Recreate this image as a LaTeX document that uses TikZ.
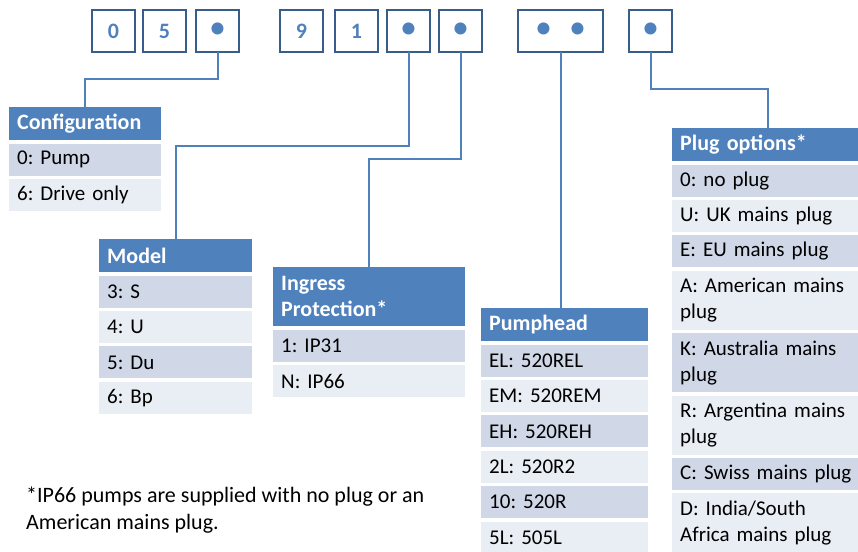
\documentclass[tikz,border=0pt]{standalone}
\usepackage{fontspec}
\setmainfont{Carlito}
\usetikzlibrary{positioning}
\definecolor{hdrblue}{HTML}{4F81BD}
\definecolor{boxedge}{HTML}{385D8A}
\definecolor{rowdark}{HTML}{D0D8E8}
\definecolor{rowlight}{HTML}{E9EDF4}
\frenchspacing

\begin{document}
\begin{tikzpicture}[
    x=1pt, y=-1pt,
    node distance=3pt,
    digit/.style={draw=boxedge, line width=2pt, outer sep=0pt, minimum width=43pt, minimum height=42pt, inner sep=0pt, text=hdrblue, font=\bfseries\fontsize{22}{26}\selectfont},
    dotbox/.style={digit, font=\fontsize{34}{34}\selectfont},
    hdr/.style={fill=hdrblue, text=white, text width=#1, inner xsep=8pt, inner ysep=2pt, minimum height=33pt, align=left, font=\bfseries\fontsize{22}{26}\selectfont},
    cell/.style={text width=#1, inner xsep=8pt, inner ysep=2pt, minimum height=32pt, align=left, font=\fontsize{21}{26}\selectfont},
    dark/.style={cell=#1, fill=rowdark},
    light/.style={cell=#1, fill=rowlight},
    tall/.style={minimum height=59pt},
    link/.style={draw=hdrblue, line width=2pt}
]
\useasboundingbox (0,0) rectangle (858,551);

% Code boxes
\node[digit, anchor=north west] (c1) at (92,10) {0};
\node[digit, right=8pt of c1] (c2) {5};
\node[dotbox, right=10pt of c2] (cfgdot) {•};
\node[digit, right=41pt of cfgdot] (c4) {9};
\node[digit, right=12pt of c4] (c5) {1};
\node[dotbox, right=9pt of c5] (mdldot) {•};
\node[dotbox, right=9pt of mdldot] (ipdot) {•};
\node[dotbox, minimum width=85pt, right=36pt of ipdot] (phdots) {•\hspace{17pt}•};
\node[dotbox, right=26pt of phdots] (plugdot) {•};

% Configuration
\node[hdr=136pt, anchor=north west] (cfg) at (9,107) {Configuration};
\node[dark=136pt, below=of cfg] (cfg1) {0: Pump};
\node[light=136pt, below=of cfg1] (cfg2) {6: Drive only};

% Model
\node[hdr=137pt, anchor=north west] (mdl) at (99,239) {Model};
\node[dark=137pt, below=of mdl] (mdl1) {3: S};
\node[light=137pt, below=of mdl1] (mdl2) {4: U};
\node[dark=137pt, below=of mdl2] (mdl3) {5: Du};
\node[light=137pt, below=of mdl3] (mdl4) {6: Bp};

% Ingress protection
\node[hdr=176pt, tall, anchor=north west] (ip) at (273,267) {Ingress\\Protection*};
\node[dark=176pt, below=of ip] (ip1) {1: IP31};
\node[light=176pt, below=of ip1] (ip2) {N: IP66};

% Pumphead
\node[hdr=151pt, anchor=north west] (ph) at (481,308) {Pumphead};
\node[dark=151pt, below=of ph] (ph1) {EL: 520REL};
\node[light=151pt, below=of ph1] (ph2) {EM: 520REM};
\node[dark=151pt, below=of ph2] (ph3) {EH: 520REH};
\node[light=151pt, below=of ph3] (ph4) {2L: 520R2};
\node[dark=151pt, below=of ph4] (ph5) {10: 520R};
\node[light=151pt, below=of ph5] (ph6) {5L: 505L};

% Plug options
\node[hdr=176pt, anchor=north west] (plug) at (672,128) {Plug options*};
\node[dark=176pt, below=of plug] (plug1) {0: no plug};
\node[light=176pt, below=of plug1] (plug2) {U: UK mains plug};
\node[dark=176pt, below=of plug2] (plug3) {E: EU mains plug};
\node[light=176pt, tall, below=of plug3] (plug4) {A: American mains\\plug};
\node[dark=176pt, tall, below=of plug4] (plug5) {K: Australia mains\\plug};
\node[light=176pt, tall, below=of plug5] (plug6) {R: Argentina mains\\plug};
\node[dark=176pt, below=of plug6] (plug7) {C: Swiss mains plug};
\node[light=176pt, tall, below=of plug7] (plug8) {D: India/South\\Africa mains plug};

% Footnote
\node[anchor=north west, align=left, inner sep=0pt, font=\fontsize{22}{27}\selectfont] (note) at (26,487) {*IP66 pumps are supplied with no plug or an\\American mains plug.};

% Links
\draw[link] (cfgdot.south) -- ++(0,27) -| (cfg.north);
\draw[link] (mdldot.south) -- ++(0,94) -| (mdl.north);
\draw[link] (ipdot.south) -- ++(0,107) -| (ip.north);
\draw[link] (phdots.south) -- (phdots.south |- ph.north);
\draw[link] (plugdot.south) -- ++(0,37) -| (plug.north);

\end{tikzpicture}
\end{document}
